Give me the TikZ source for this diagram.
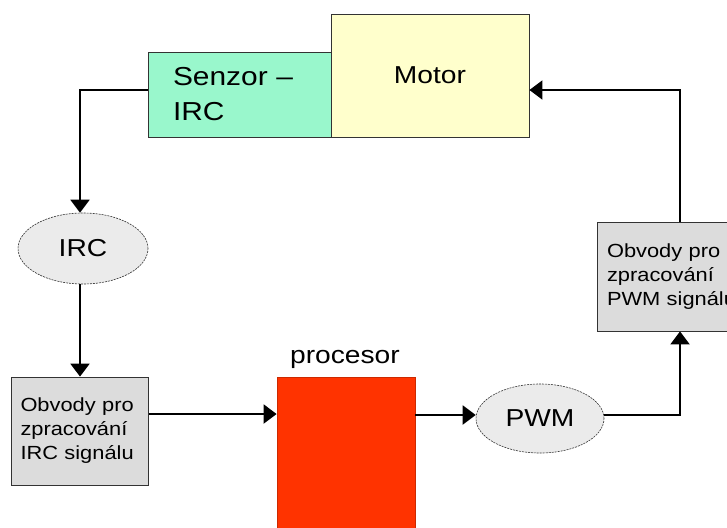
\documentclass[tikz,border=0pt]{standalone}
\usepackage{fontspec}
\setmainfont[FakeStretch=1.15]{Liberation Sans}
\usetikzlibrary{shapes.geometric,arrows.meta}
\definecolor{senzorgreen}{HTML}{99F7CC}
\definecolor{motoryellow}{HTML}{FFFFCC}
\definecolor{boxgray}{HTML}{DCDCDC}
\definecolor{ellgray}{HTML}{EBEBEB}
\definecolor{procred}{HTML}{FF3300}
\definecolor{edge}{HTML}{333333}
\tikzset{
  blockbox/.style={draw=edge, line width=0.8pt, rectangle, inner sep=0pt},
  smallbox/.style={blockbox, fill=boxgray, font=\fontsize{19}{24}\selectfont, align=left},
  ovalnode/.style={ellipse, draw=edge, line width=0.6pt, dash pattern=on 2pt off 1pt, fill=ellgray, inner sep=0pt, font=\fontsize{24.5}{30}\selectfont},
  bigtext/.style={font=\fontsize{24.5}{35}\selectfont},
  arr/.style={line width=2pt, -{Triangle[width=19pt,length=13pt]}},
}
\begin{document}
\begin{tikzpicture}[x=1pt,y=-1pt]
\useasboundingbox (0,0) rectangle (727,527);
% boxes
\node[blockbox, fill=motoryellow, minimum width=198pt, minimum height=123pt, bigtext] (motor) at (430,75.5) {Motor};
\node[blockbox, fill=senzorgreen, minimum width=183pt, minimum height=85pt, font=\fontsize{26}{35}\selectfont, align=left, text width=133pt] (senzor) at (239.5,94.5) {Senzor --\\IRC};
\node[ovalnode, minimum width=130pt, minimum height=71pt] (ircell) at (83,248.5) {IRC};
\node[smallbox, minimum width=137pt, minimum height=108pt, text width=119pt] (ircbox) at (80,431) {Obvody pro\\zpracování\\IRC signálu};
\node[blockbox, draw=procred!80!black, fill=procred, minimum width=138pt, minimum height=160pt] (proc) at (346,457) {};
\node[bigtext, anchor=base] (proclabel) at (345,363) {procesor};
\node[ovalnode, minimum width=128pt, minimum height=69pt] (pwmell) at (540,418.5) {PWM};
\node[smallbox, minimum width=166pt, minimum height=109pt, text width=146pt] (pwmbox) at (680,276.5) {Obvody pro\\zpracování\\PWM signálu};
% connectors
\coordinate (s1) at ([yshift=4.5pt]senzor.west);
\coordinate (c1) at ([xshift=-3pt]ircell.north);
\draw[arr] (s1) -| (c1);
\draw[arr] (ircell.south -| ircbox.north) -- (ircbox.north);
\coordinate (i1) at ([yshift=17pt]ircbox.east);
\draw[arr] (i1) -- (i1 -| proc.west);
\coordinate (p1) at ([yshift=3.5pt]pwmell.west);
\draw[arr] (p1 -| proc.east) -- (p1);
\coordinate (p2) at ([yshift=3.5pt]pwmell.east);
\draw[arr] (p2) -| (pwmbox.south);
\coordinate (m1) at ([yshift=-14.5pt]motor.east);
\draw[arr] (pwmbox.north) |- (m1);
\end{tikzpicture}
\end{document}
